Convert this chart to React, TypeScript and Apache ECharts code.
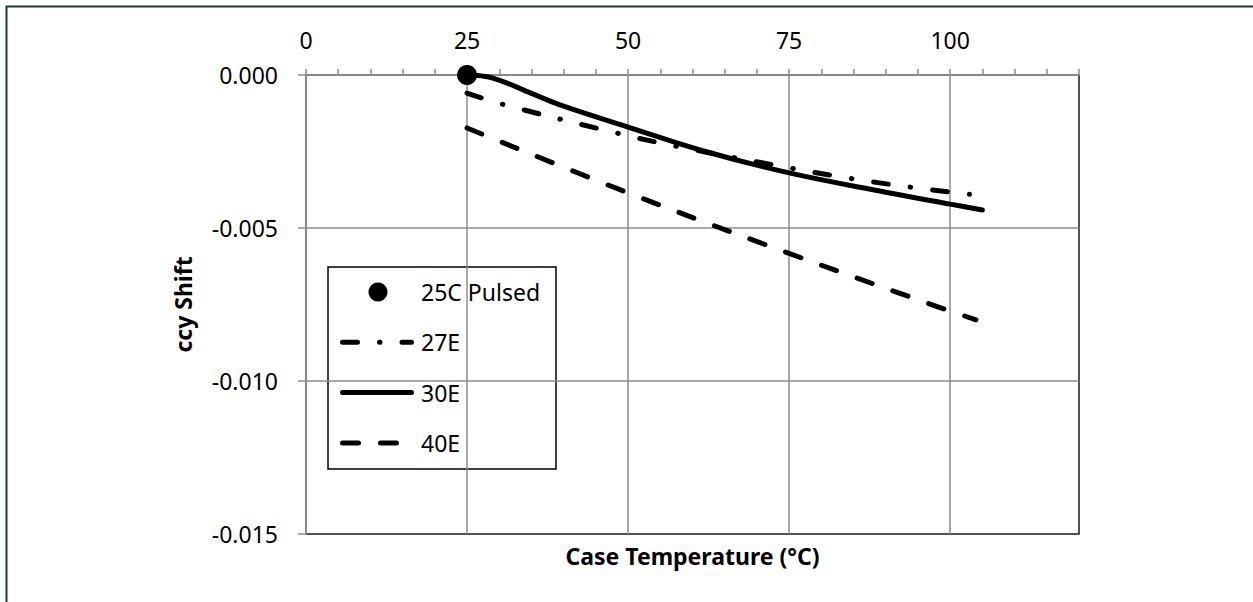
import React, { useEffect, useRef } from "react";
import * as echarts from "echarts";

// ---- data ----
const seriesNames = ["25C Pulsed", "27E", "30E", "40E"];

const pulsedTemp = [25];
const pulsedShift = [0];

const temp27 = [25, 30.4, 48.3, 57.3, 75.2, 84.2, 93.3, 103];
const shift27 = [-0.00059, -0.00095, -0.0019, -0.00232, -0.00304, -0.00337, -0.00365, -0.0039];

const temp30 = [25, 29, 35, 40, 50, 62, 75, 90, 100, 105];
const shift30 = [0, -0.0001, -0.0006, -0.00102, -0.0017, -0.0025, -0.0032, -0.00383, -0.00422, -0.00441];

const temp40 = [25, 50, 75, 96.4, 104];
const shift40 = [-0.00173, -0.00385, -0.00583, -0.00745, -0.008];

const xMin = 0;
const xMax = 120;
const xMajor = 25;
const xMinor = 5;
const yMin = -0.015;
const yMax = 0;
const yStep = 0.005;

const xTitle = "Case Temperature (°C)";
const yTitle = "ccy Shift";

// ---- styles ----
const FONT = '"Noto Sans", "Open Sans", "DejaVu Sans", sans-serif';
const GRID_GRAY = "#8c8c8c";
const DASH_27 = [15, 22, 0.5, 22];
const DASH_40 = [16, 22];

function pairs(xs: number[], ys: number[]) {
  return xs.map((x, i) => [x, ys[i]]);
}

export default function App() {
  const ref = useRef<HTMLDivElement>(null);

  useEffect(() => {
    const chart = echarts.init(ref.current!, null, { renderer: "svg" });

    const lgX = 328;
    const lgY = 267;
    const lgW = 228;
    const lgH = 202;
    const rowY0 = 292;
    const rowStep = 50.3;
    const symX0 = 342.5;
    const textX = 421;

    const legendChildren: any[] = [
      {
        type: "rect",
        shape: { x: lgX, y: lgY, width: lgW, height: lgH },
        style: { fill: "#fff", stroke: "#000", lineWidth: 1.5 },
      },
      {
        type: "circle",
        shape: { cx: 378, cy: rowY0, r: 9.5 },
        style: { fill: "#000" },
      },
      {
        type: "line",
        shape: { x1: symX0, y1: rowY0 + rowStep, x2: 411.5, y2: rowY0 + rowStep },
        style: { stroke: "#000", lineWidth: 5, lineCap: "round", lineDash: DASH_27 },
      },
      {
        type: "line",
        shape: { x1: symX0, y1: rowY0 + rowStep * 2, x2: 411.5, y2: rowY0 + rowStep * 2 },
        style: { stroke: "#000", lineWidth: 5, lineCap: "round" },
      },
      {
        type: "line",
        shape: { x1: symX0, y1: rowY0 + rowStep * 3, x2: 396.5, y2: rowY0 + rowStep * 3 },
        style: { stroke: "#000", lineWidth: 5, lineCap: "round", lineDash: DASH_40 },
      },
    ];
    seriesNames.forEach((name, i) => {
      legendChildren.push({
        type: "text",
        x: textX,
        y: rowY0 + rowStep * i,
        style: {
          text: name,
          fill: "#000",
          font: `23px ${FONT}`,
          verticalAlign: "middle",
          align: "left",
        },
      });
    });

    const labelStyle = { fontFamily: FONT, fontSize: 23, color: "#000" };
    const titleStyle = { fontFamily: FONT, fontSize: 23, fontWeight: "bold" as const, color: "#000" };

    const lineBase = {
      type: "line",
      smooth: 0.4,
      showSymbol: false,
      symbol: "none",
      emphasis: { disabled: true },
    };

    const option: any = {
      animation: false,
      backgroundColor: "#fff",
      grid: {
        left: 306,
        top: 75,
        width: 773,
        height: 459,
        show: true,
        borderColor: "#1a1a1a",
        borderWidth: 1.5,
        backgroundColor: "transparent",
      },
      xAxis: [
        {
          type: "value",
          position: "top",
          min: xMin,
          max: xMax,
          interval: xMajor,
          axisLine: { show: true, lineStyle: { color: GRID_GRAY, width: 1.5 } },
          axisTick: { show: false },
          axisLabel: {
            ...labelStyle,
            margin: 24,
            formatter: (v: number) => (v % xMajor === 0 ? String(v) : ""),
          },
          splitLine: { show: true, showMaxLine: false, lineStyle: { color: GRID_GRAY, width: 1.5 } },
        },
        {
          type: "value",
          position: "top",
          min: xMin,
          max: xMax,
          interval: xMinor,
          axisLine: { show: false },
          axisTick: { show: true, inside: false, length: 6, lineStyle: { color: GRID_GRAY, width: 1.5 } },
          axisLabel: { show: false },
          splitLine: { show: false },
        },
        {
          type: "value",
          position: "bottom",
          min: xMin,
          max: xMax,
          axisLine: { show: false },
          axisTick: { show: false },
          axisLabel: { show: false },
          splitLine: { show: false },
          name: xTitle,
          nameLocation: "middle",
          nameGap: 10,
          nameTextStyle: titleStyle,
        },
      ],
      yAxis: {
        type: "value",
        min: yMin,
        max: yMax,
        interval: yStep,
        axisLine: { show: true, lineStyle: { color: GRID_GRAY, width: 1.5 } },
        axisTick: { show: true, length: 8, lineStyle: { color: GRID_GRAY, width: 1.5 } },
        axisLabel: {
          ...labelStyle,
          margin: 28,
          formatter: (v: number) => v.toFixed(3),
        },
        splitLine: { show: true, showMinLine: false, lineStyle: { color: GRID_GRAY, width: 1.5 } },
        name: yTitle,
        nameLocation: "middle",
        nameRotate: 90,
        nameGap: 112,
        nameTextStyle: titleStyle,
      },
      series: [
        {
          ...lineBase,
          name: seriesNames[3],
          data: pairs(temp40, shift40),
          lineStyle: { color: "#000", width: 5, type: DASH_40, cap: "round" },
          z: 3,
        },
        {
          ...lineBase,
          name: seriesNames[1],
          data: pairs(temp27, shift27),
          lineStyle: { color: "#000", width: 5, type: DASH_27, cap: "round" },
          z: 3,
        },
        {
          ...lineBase,
          name: seriesNames[2],
          data: pairs(temp30, shift30),
          lineStyle: { color: "#000", width: 5, cap: "round" },
          z: 4,
        },
        {
          name: seriesNames[0],
          type: "scatter",
          data: pairs(pulsedTemp, pulsedShift),
          symbol: "circle",
          symbolSize: 20,
          itemStyle: { color: "#000", opacity: 1 },
          emphasis: { disabled: true },
          z: 6,
        },
      ],
      graphic: [
        {
          type: "polyline",
          shape: { points: [[6.5, 610], [6.5, 6.5], [1260, 6.5]] },
          style: { stroke: "#1f3a29", lineWidth: 2, fill: null },
          silent: true,
        },
        {
          type: "group",
          z: 100,
          silent: true,
          children: legendChildren,
        },
      ],
    };

    chart.setOption(option);
    return () => chart.dispose();
  }, []);

  return (
    <div
      ref={ref}
      style={{ position: "fixed", left: 0, top: 0, width: 1253, height: 602, background: "#fff" }}
    />
  );
}
